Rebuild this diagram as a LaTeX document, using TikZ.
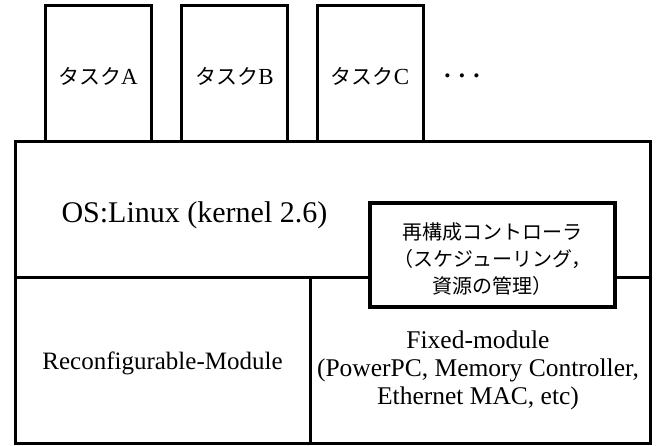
\documentclass[tikz,border=0pt]{standalone}
\usepackage{fontspec}
\setmainfont{Liberation Serif}
\newfontfamily\jp{Noto Sans CJK JP}
\usetikzlibrary{positioning}

\begin{document}
\begin{tikzpicture}[
    x=1pt, y=-1pt,
    frame/.style={line width=3pt},
    taskbox/.style={rectangle, draw, line width=3pt, minimum width=106pt, minimum height=136pt, inner sep=0pt},
    ctrlbox/.style={rectangle, draw, line width=4pt, fill=white, minimum width=245pt, minimum height=104pt, inner sep=0pt},
    tasklabel/.style={font=\fontsize{21}{24}\selectfont\jp},
    layerlabel/.style={align=center, font=\fontsize{25.5}{28}\selectfont}
  ]
    \useasboundingbox (0,0) rectangle (656,446);
    % Layers
    \draw[frame] (15,142) rectangle (650,278);
    \draw[frame] (15,278) rectangle (310,443);
    \draw[frame] (310,278) rectangle (650,443);
    % Tasks
    \node[taskbox] (taskA) at (98,74) {};
    \node[taskbox] (taskB) at (234.5,74) {};
    \node[taskbox] (taskC) at (370,74) {};
    \node[tasklabel] (labA) at ([yshift=-2pt]taskA.center) {タスク{\rmfamily\fontsize{23}{24}\selectfont A}};
    \node[tasklabel] (labB) at ([yshift=-2pt]taskB.center) {タスク{\rmfamily\fontsize{23}{24}\selectfont B}};
    \node[tasklabel] (labC) at ([yshift=-2pt]taskC.center) {タスク{\rmfamily\fontsize{23}{24}\selectfont C}};
    \node[font=\fontsize{25}{25}\selectfont\bfseries] (more) at (462,76) {. . .};
    % OS and modules
    \node[anchor=west, font=\fontsize{30}{30}\selectfont] (os) at (58,215) {OS:Linux (kernel 2.6)};
    \node[layerlabel, font=\fontsize{25}{27}\selectfont] (rm) at (162.5,363) {Reconfigurable-Module};
    \node[layerlabel] (fm) at (478,370) {Fixed-module\\(PowerPC, Memory Controller,\\Ethernet MAC, etc)};
    % Controller
    \node[ctrlbox] (ctrl) at (492.5,255) {};
    \node[align=center, font=\fontsize{20}{27}\selectfont\jp] (ctrltext) at ([yshift=-4pt]ctrl.center) {再構成コントローラ\\（スケジューリング，\\資源の管理）};
  \end{tikzpicture}
\end{document}
